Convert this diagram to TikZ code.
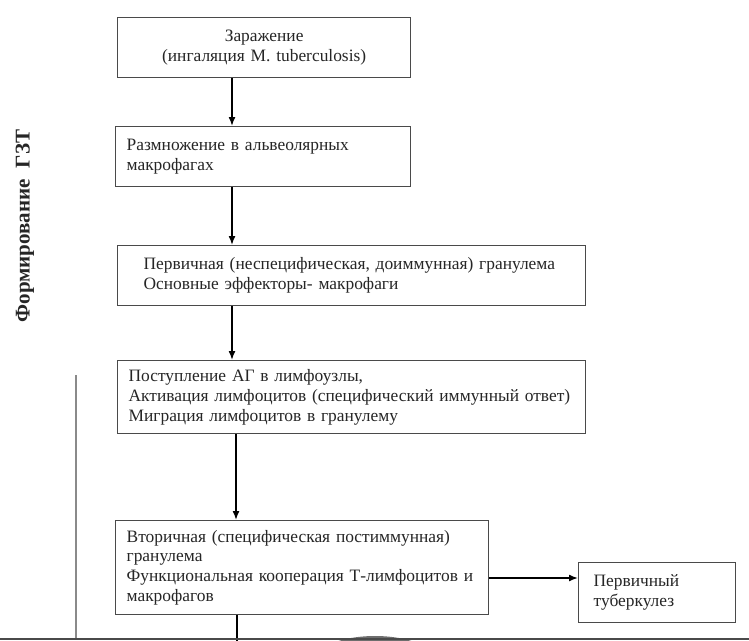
\documentclass[tikz,border=0pt]{standalone}
\usepackage{fontspec}
\setmainfont{Liberation Serif}
\usetikzlibrary{arrows.meta}
\definecolor{boxgray}{HTML}{4A4A4A}
\definecolor{textgray}{HTML}{262626}
\definecolor{linegray}{HTML}{8A8A8A}
\newcommand{\fsz}{\fontsize{17.4}{19.7}\selectfont}
\tikzset{
  box/.style={draw=boxgray, line width=1.3pt, rectangle, anchor=north west,
    inner ysep=0pt, align=left, font=\fsz, text=textgray},
  arr/.style={draw=black, line width=1.5pt, -{Latex[length=9pt,width=7pt]}},
}
\begin{document}
\begin{tikzpicture}[x=1pt,y=-1pt]
\useasboundingbox (0,0) rectangle (749,640);
\fill[white] (0,0) rectangle (749,640);

\node[box, align=center, minimum width=293, minimum height=60, text width=283, inner xsep=4] (b1) at (117,17)
  {Заражение\\(ингаляция M. tuberculosis)};
\node[box, minimum width=295, minimum height=60, text width=273, inner xsep=10] (b2) at (115,126)
  {Размножение в альвеолярных\\макрофагах};
\node[box, minimum width=468, minimum height=60, text width=416, inner xsep=25] (b3) at (117,245)
  {Первичная (неспецифическая, доиммунная) гранулема\\Основные эффекторы- макрофаги};
\node[box, minimum width=468, minimum height=73, text width=446, inner xsep=10] (b4) at (117,360)
  {Поступление АГ в лимфоузлы,\\Активация лимфоцитов (специфический иммунный ответ)\\Миграция лимфоцитов в гранулему};
\node[box, minimum width=373, minimum height=94, text width=351, inner xsep=10] (b5) at (115,520)
  {Вторичная (специфическая постиммунная)\\гранулема\\Функциональная кооперация Т-лимфоцитов и\\макрофагов};
\node[box, minimum width=157, minimum height=60, text width=127, inner xsep=14] (b6) at (578,562)
  {Первичный\\туберкулез};

\node[rotate=90, font=\fontsize{21}{23}\selectfont\bfseries, text=textgray] (side) at (25,226) {Формирование\ \ ГЗТ};

\draw[arr] ([xshift=115pt]b1.south west) -- ([xshift=117pt]b2.north west);
\draw[arr] ([xshift=117pt]b2.south west) -- ([xshift=115pt]b3.north west);
\draw[arr] ([xshift=115pt]b3.south west) -- ([xshift=115pt]b4.north west);
\draw[arr] ([xshift=119pt]b4.south west) -- ([xshift=121pt]b5.north west);
\coordinate (a5) at ([yshift=-58pt]b5.north east);
\draw[arr] (a5) -- (a5 -| b6.west);

\coordinate (vtop) at (76,375);
\coordinate (vbot) at (76,640);
\draw[linegray, line width=1.3pt] (vtop) -- (vbot);
\coordinate (dbot) at (237,642);
\draw[black, line width=1.5pt] ([xshift=122pt]b5.south west) -- (dbot);

\fill[boxgray!80] (375,662) ellipse (62pt and 26pt);
\coordinate (bl) at (0,639);
\coordinate (br) at (749,639);
\draw[boxgray, line width=2pt] (bl) -- (br);
\end{tikzpicture}
\end{document}
